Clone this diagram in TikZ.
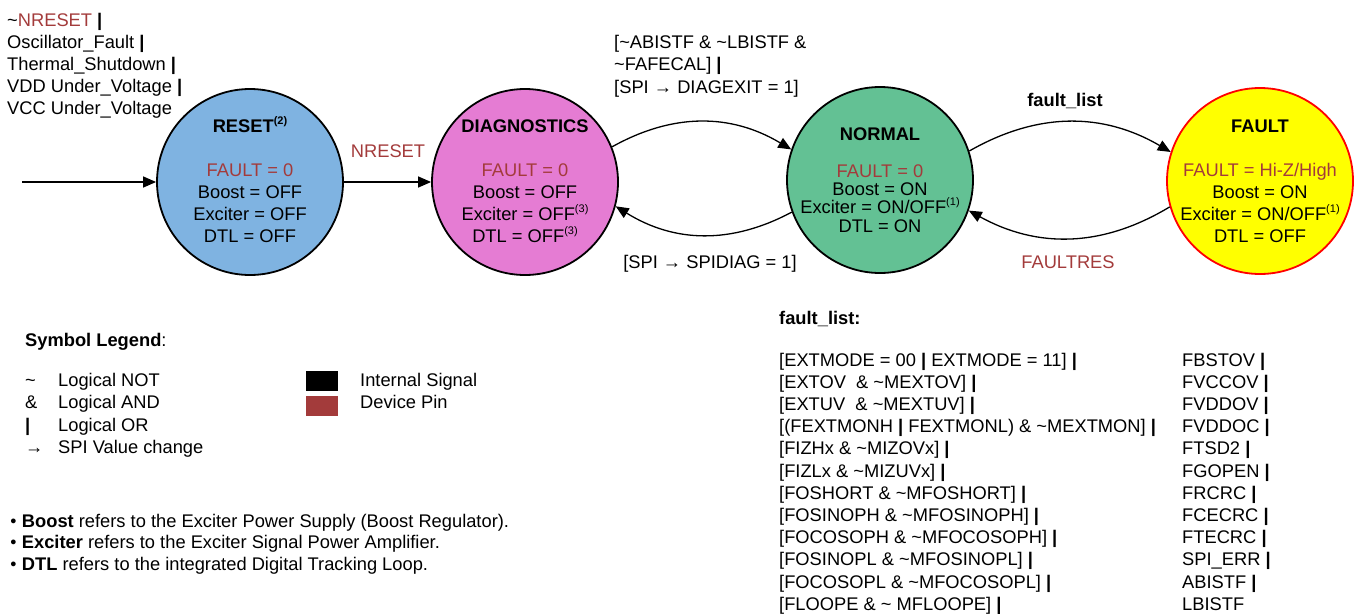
\documentclass[tikz,border=0pt]{standalone}
\usepackage{fontspec}
\setmainfont{Liberation Sans}
\usetikzlibrary{arrows.meta}
\definecolor{resetblue}{RGB}{127,179,225}
\definecolor{diagpink}{RGB}{229,124,211}
\definecolor{normgreen}{RGB}{99,193,148}
\definecolor{faultyellow}{RGB}{255,255,0}
\definecolor{pinred}{RGB}{163,59,59}
\newcommand\sups[1]{\raisebox{0.42em}{\fontsize{11}{11}\selectfont #1}}
\newcommand\bsups[1]{\raisebox{0.42em}{\fontsize{11}{11}\selectfont\bfseries #1}}
\newcommand\OR{\textbf{|}}
\newcommand\NOT{\textasciitilde}
\newcommand\bul{\raisebox{3pt}{\fontsize{11}{11}\selectfont ●}}
\begin{document}
\begin{tikzpicture}[x=1pt,y=-1pt,
  txt/.style={inner sep=0pt, font=\fontsize{18.3}{22}\selectfont},
  lft/.style={txt, anchor=base west},
  ctr/.style={txt, anchor=base},
  bold/.style={font=\fontsize{18.3}{22}\selectfont\bfseries},
  state/.style={circle, draw=black, line width=1.8pt, minimum size=186pt, inner sep=0pt},
  arr/.style={line width=1.3pt, -{Triangle[length=13pt,width=11pt]}},
  pin/.style={text=pinred}]
\useasboundingbox (0,0) rectangle (1354,613);

% states
\node[state, fill=resetblue] (reset) at (250,182) {};
\node[state, fill=diagpink] (diag) at (525,182) {};
\node[state, fill=normgreen] (normal) at (880,180) {};
\node[state, fill=faultyellow, draw=red] (fault) at (1260,181) {};

% RESET text
\node[ctr, bold] (rt) at (250,132) {RESET\bsups{(2)}};
\node[ctr, pin] (r1) at (250,176) {FAULT = 0};
\node[ctr] (r2) at (250,198) {Boost = OFF};
\node[ctr] (r3) at (250,220) {Exciter = OFF};
\node[ctr] (r4) at (250,242) {DTL = OFF};

% DIAG text
\node[ctr, bold] (dt) at (525,132) {DIAGNOSTICS};
\node[ctr, pin] (d1) at (525,176) {FAULT = 0};
\node[ctr] (d2) at (525,198) {Boost = OFF};
\node[ctr] (d3) at (525,220) {Exciter = OFF\sups{(3)}};
\node[ctr] (d4) at (525,242) {DTL = OFF\sups{(3)}};

% NORMAL text
\node[ctr, bold] (nt) at (880,140) {NORMAL};
\node[ctr, pin] (n1) at (880,177) {FAULT = 0};
\node[ctr] (n2) at (880,195) {Boost = ON};
\node[ctr] (n3) at (880,213) {Exciter = ON/OFF\sups{(1)}};
\node[ctr] (n4) at (880,232) {DTL = ON};

% FAULT text
\node[ctr, bold] (ft) at (1260,132) {FAULT};
\node[ctr, pin] (f1) at (1260,176) {FAULT = Hi-Z/High};
\node[ctr] (f2) at (1260,198) {Boost = ON};
\node[ctr] (f3) at (1260,220) {Exciter = ON/OFF\sups{(1)}};
\node[ctr] (f4) at (1260,242) {DTL = OFF};

% connectors
\coordinate (start) at (22,182);
\draw[arr] (start) -- (reset.west);
\draw[arr] (reset.east) -- (diag.west);
\draw[arr] (diag.22) to[bend left=30] (normal.161);
\draw[arr] (normal.200) to[bend left=30] (diag.-15);
\draw[arr] (normal.18) to[bend left=30] (fault.162);
\draw[arr] (fault.196) to[bend left=30] (normal.-19);

% connector labels
\node[ctr, pin] (lnreset) at (388,157) {NRESET};
\node[lft] (lt1) at (614,48) {[\NOT ABISTF \& \NOT LBISTF \&};
\node[lft] (lt2) at (614,70) {\NOT FAFECAL] \OR};
\node[lft] (lt3) at (614,93) {[SPI → DIAGEXIT = 1]};
\node[ctr] (lspi) at (710,268) {[SPI → SPIDIAG = 1]};
\node[ctr, bold] (lfl) at (1065,106) {fault\_list};
\node[ctr, pin] (lfr) at (1068,268) {FAULTRES};

% top-left conditions
\node[lft] (tl1) at (7,26) {\NOT\textcolor{pinred}{NRESET} \OR};
\node[lft] (tl2) at (7,48) {Oscillator\_Fault \OR};
\node[lft] (tl3) at (7,70) {Thermal\_Shutdown \OR};
\node[lft] (tl4) at (7,92) {VDD Under\_Voltage \OR};
\node[lft] (tl5) at (7,114) {VCC Under\_Voltage};

% legend
\node[lft] (lgh) at (25,346) {\textbf{Symbol Legend}:};
\node[lft] (ls1) at (25,386) {\NOT};
\node[lft] (ls2) at (25,408) {\&};
\node[lft] (ls3) at (25,431) {\OR};
\node[lft] (ls4) at (25,453) {→};
\node[lft] (lx1) at (58,386) {Logical NOT};
\node[lft] (lx2) at (58,408) {Logical AND};
\node[lft] (lx3) at (58,431) {Logical OR};
\node[lft] (lx4) at (58,453) {SPI Value change};
\fill[black] (306,371) rectangle (338,391);
\fill[pinred] (306,396) rectangle (338,416);
\node[lft] (lb1) at (360,386) {Internal Signal};
\node[lft] (lb2) at (360,408) {Device Pin};

% notes
\node[lft] (b1) at (10,527) {\bul\ \textbf{Boost} refers to the Exciter Power Supply (Boost Regulator).};
\node[lft] (b2) at (10,548) {\bul\ \textbf{Exciter} refers to the Exciter Signal Power Amplifier.};
\node[lft] (b3) at (10,570) {\bul\ \textbf{DTL} refers to the integrated Digital Tracking Loop.};

% fault list
\node[lft, bold] (flh) at (779,324) {fault\_list:};
\foreach \i/\t in {0/{[EXTMODE = 00 \OR\ EXTMODE = 11] \OR},
  1/{[EXTOV\ \ \& \NOT MEXTOV] \OR},
  2/{[EXTUV\ \ \& \NOT MEXTUV] \OR},
  3/{[(FEXTMONH \OR\ FEXTMONL) \& \NOT MEXTMON] \OR},
  4/{[FIZHx \& \NOT MIZOVx] \OR},
  5/{[FIZLx \& \NOT MIZUVx] \OR},
  6/{[FOSHORT \& \NOT MFOSHORT] \OR},
  7/{[FOSINOPH \& \NOT MFOSINOPH] \OR},
  8/{[FOCOSOPH \& \NOT MFOCOSOPH] \OR},
  9/{[FOSINOPL \& \NOT MFOSINOPL] \OR},
  10/{[FOCOSOPL \& \NOT MFOCOSOPL] \OR},
  11/{[FLOOPE \& \NOT\ MFLOOPE] \OR}}
  \node[lft] (fla\i) at (779,366+22.2*\i) {\t};
\foreach \i/\t in {0/{FBSTOV \OR},1/{FVCCOV \OR},2/{FVDDOV \OR},3/{FVDDOC \OR},
  4/{FTSD2 \OR},5/{FGOPEN \OR},6/{FRCRC \OR},7/{FCECRC \OR},8/{FTECRC \OR},
  9/{SPI\_ERR \OR},10/{ABISTF \OR},11/{LBISTF}}
  \node[lft] (flb\i) at (1182,366+22.2*\i) {\t};
\end{tikzpicture}
\end{document}
